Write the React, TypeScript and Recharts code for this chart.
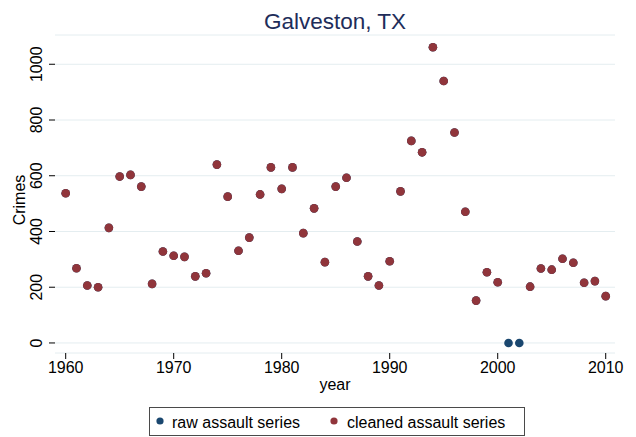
import React from 'react';
import { ScatterChart, Scatter, XAxis, YAxis, CartesianGrid } from 'recharts';

const years = [
  1960, 1961, 1962, 1963, 1964, 1965, 1966, 1967, 1968, 1969,
  1970, 1971, 1972, 1973, 1974, 1975, 1976, 1977, 1978, 1979,
  1980, 1981, 1982, 1983, 1984, 1985, 1986, 1987, 1988, 1989,
  1990, 1991, 1992, 1993, 1994, 1995, 1996, 1997, 1998, 1999,
  2000, 2001, 2002, 2003, 2004, 2005, 2006, 2007, 2008, 2009, 2010,
];

const cleanedAssault: (number | null)[] = [
  537, 268, 206, 200, 413, 597, 603, 561, 212, 328,
  313, 309, 239, 250, 640, 525, 331, 378, 533, 630,
  553, 630, 394, 483, 290, 561, 593, 364, 239, 206,
  293, 544, 725, 684, 1061, 940, 755, 471, 152, 254,
  218, null, null, 202, 267, 263, 302, 288, 216, 222, 168,
];

const rawAssault: (number | null)[] = [
  537, 268, 206, 200, 413, 597, 603, 561, 212, 328,
  313, 309, 239, 250, 640, 525, 331, 378, 533, 630,
  553, 630, 394, 483, 290, 561, 593, 364, 239, 206,
  293, 544, 725, 684, 1061, 940, 755, 471, 152, 254,
  218, 0, 0, 202, 267, 263, 302, 288, 216, 222, 168,
];

const xTicks = [1960, 1970, 1980, 1990, 2000, 2010];
const yTicks = [0, 200, 400, 600, 800, 1000];

const seriesNames = ['raw assault series', 'cleaned assault series'];
const titleText = 'Galveston, TX';
const xLabel = 'year';
const yLabel = 'Crimes';

const RED = '#90353b';
const BLUE = '#1a476f';
const FONT = '"Liberation Sans", Arial, Helvetica, sans-serif';

const rawData = years
  .map((y, i) => ({ year: y, value: rawAssault[i] }))
  .filter((d) => d.value !== null);
const cleanedData = years
  .map((y, i) => ({ year: y, value: cleanedAssault[i] }))
  .filter((d) => d.value !== null);

const dot = (color: string) => (props: any) => {
  if (props.cx == null || props.cy == null) return <g />;
  return <circle cx={props.cx} cy={props.cy} r={4.3} fill={color} />;
};

const YTick = (props: any) => {
  const { y, payload } = props;
  const x = 42.5;
  return (
    <text
      x={x}
      y={y}
      transform={`rotate(-90, ${x}, ${y})`}
      textAnchor="middle"
      fontSize={16}
      fontFamily={FONT}
      fill="#000"
    >
      {payload.value}
    </text>
  );
};

const XTick = (props: any) => {
  const { x, payload } = props;
  return (
    <text x={x} y={373} textAnchor="middle" fontSize={16} fontFamily={FONT} fill="#000">
      {payload.value}
    </text>
  );
};

export default function App() {
  return (
    <div style={{ position: 'absolute', left: 0, top: 0, width: 636, height: 437, background: '#fff' }}>
      <ScatterChart
        width={636}
        height={437}
        margin={{ top: 35, right: 21, bottom: 44, left: 0 }}
      >
        <CartesianGrid vertical={false} stroke="#e4edf0" strokeWidth={1} />
        <XAxis
          type="number"
          dataKey="year"
          domain={[1959.01, 2010.86]}
          ticks={xTicks}
          axisLine={false}
          tickSize={6}
          tickLine={{ stroke: '#000' }}
          tick={<XTick />}
          height={40}
          allowDataOverflow
        />
        <YAxis
          type="number"
          dataKey="value"
          domain={[-36, 1105]}
          ticks={yTicks}
          axisLine={false}
          tickSize={6}
          tickLine={{ stroke: '#000' }}
          tick={<YTick />}
          width={55}
          allowDataOverflow
        />
        <Scatter
          name={seriesNames[0]}
          data={rawData}
          fill={BLUE}
          shape={dot(BLUE)}
          isAnimationActive={false}
        />
        <Scatter
          name={seriesNames[1]}
          data={cleanedData}
          fill={RED}
          shape={dot(RED)}
          isAnimationActive={false}
        />
      </ScatterChart>
      <svg
        width={636}
        height={437}
        style={{ position: 'absolute', left: 0, top: 0, pointerEvents: 'none' }}
      >
        <text x={335} y={29} textAnchor="middle" fontSize={22.5} fontFamily={FONT} fill="#1e2d5a">
          {titleText}
        </text>
        <text
          x={25}
          y={200}
          transform="rotate(-90, 25, 200)"
          textAnchor="middle"
          fontSize={16}
          fontFamily={FONT}
          fill="#000"
        >
          {yLabel}
        </text>
        <text x={335} y={390} textAnchor="middle" fontSize={16} fontFamily={FONT} fill="#000">
          {xLabel}
        </text>
        <rect x={149.5} y={407.5} width={375} height={28} fill="#fff" stroke="#4a4a4a" strokeWidth={1} />
        <circle cx={160} cy={421} r={3.6} fill={BLUE} />
        <text x={172} y={428} fontSize={16} fontFamily={FONT} fill="#000">
          {seriesNames[0]}
        </text>
        <circle cx={334} cy={421} r={3.6} fill={RED} />
        <text x={347} y={428} fontSize={16} fontFamily={FONT} fill="#000">
          {seriesNames[1]}
        </text>
      </svg>
    </div>
  );
}
